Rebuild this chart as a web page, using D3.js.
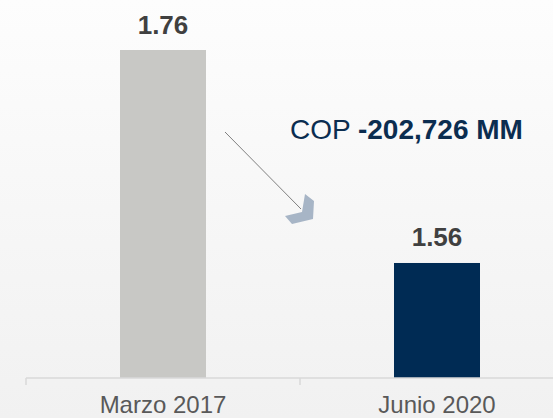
<!DOCTYPE html>
<html lang="es">
    <head>
        <meta charset="utf-8">
        <title>COP</title>
        <script src="https://d3js.org/d3.v7.min.js"></script>
        <style type="text/css">
        body { margin: 0; }
        svg { display: block; font-family: "Liberation Sans", Arial, sans-serif; }
        .value { font-size: 26px; font-weight: bold; fill: #404040; }
        .cat { font-size: 24px; fill: #595959; }
        .note { font-size: 28px; fill: #0b2d50; }
        </style>
    </head>
    <body>
        <svg width="553" height="418"></svg>

    <script type="text/javascript">

            // data
            const categories = ["Marzo 2017", "Junio 2020"];
            const values = [1.76, 1.56];
            const valueLabels = ["1.76", "1.56"];
            const barColors = ["#c8c8c5", "#002b54"];
            const yDomain = [1.452, 1.76];
            const noteLabel = "COP ";
            const noteValue = "-202,726 MM";

            const svg = d3.select("svg");
            const w = 553;
            const h = 418;
            const baseY = 378;

            // background gradient
            const grad = svg.append("defs").append("linearGradient")
                            .attr("id", "bg")
                            .attr("x1", 0).attr("y1", 0)
                            .attr("x2", 0).attr("y2", 1);
            grad.append("stop").attr("offset", "0%").attr("stop-color", "#fdfdfd");
            grad.append("stop").attr("offset", "100%").attr("stop-color", "#f1f1f1");
            svg.append("rect")
               .attr("width", w).attr("height", h)
               .attr("fill", "url(#bg)");

            const xScale = d3.scaleBand()
                             .domain(categories)
                             .range([26, 574])
                             .paddingInner(0)
                             .paddingOuter(0);

            const yScale = d3.scaleLinear()
                             .domain(yDomain)
                             .range([baseY, 50]);

            const barW = 86;

            //bars
            svg.selectAll(".bar")
               .data(categories)
               .enter()
               .append("rect")
               .attr("class", "bar")
               .attr("x", d => xScale(d) + xScale.bandwidth()/2 - barW/2)
               .attr("y", (d,i) => yScale(values[i]))
               .attr("width", barW)
               .attr("height", (d,i) => baseY - yScale(values[i]))
               .attr("fill", (d,i) => barColors[i]);

            //value labels
            svg.selectAll(".value")
               .data(categories)
               .enter()
               .append("text")
               .attr("class", "value")
               .attr("x", d => xScale(d) + xScale.bandwidth()/2)
               .attr("y", (d,i) => yScale(values[i]) - 16.5)
               .attr("text-anchor", "middle")
               .text((d,i) => valueLabels[i]);

            //bottom axis
            const axis = svg.append("g")
                            .attr("transform", "translate(0," + baseY + ")");
            axis.append("line")
                .attr("x1", 26).attr("x2", w)
                .attr("stroke", "#d9d9d9")
                .attr("stroke-width", 1.5);
            const tickX = xScale.domain().map(d => xScale(d));
            axis.selectAll(".tick")
                .data(tickX)
                .enter()
                .append("line")
                .attr("x1", d => d).attr("x2", d => d)
                .attr("y1", 0).attr("y2", 7)
                .attr("stroke", "#d9d9d9")
                .attr("stroke-width", 1.5);
            axis.selectAll(".cat")
                .data(categories)
                .enter()
                .append("text")
                .attr("class", "cat")
                .attr("x", d => xScale(d) + xScale.bandwidth()/2)
                .attr("y", 35)
                .attr("text-anchor", "middle")
                .text(d => d);

            //annotation
            const note = svg.append("text")
                            .attr("class", "note")
                            .attr("x", 290)
                            .attr("y", 139);
            note.append("tspan").text(noteLabel);
            note.append("tspan").attr("font-weight", "bold").text(noteValue);

            svg.append("line")
               .attr("x1", 225).attr("y1", 132)
               .attr("x2", 301).attr("y2", 209)
               .attr("stroke", "#7f7f7f")
               .attr("stroke-width", 1);

            svg.append("path")
               .attr("d", "M305,194 L314,201 L313,219 L292,224 L285,216 L302,212 Z")
               .attr("fill", "#a7b5c6");
        </script>
    </body>
</html>
